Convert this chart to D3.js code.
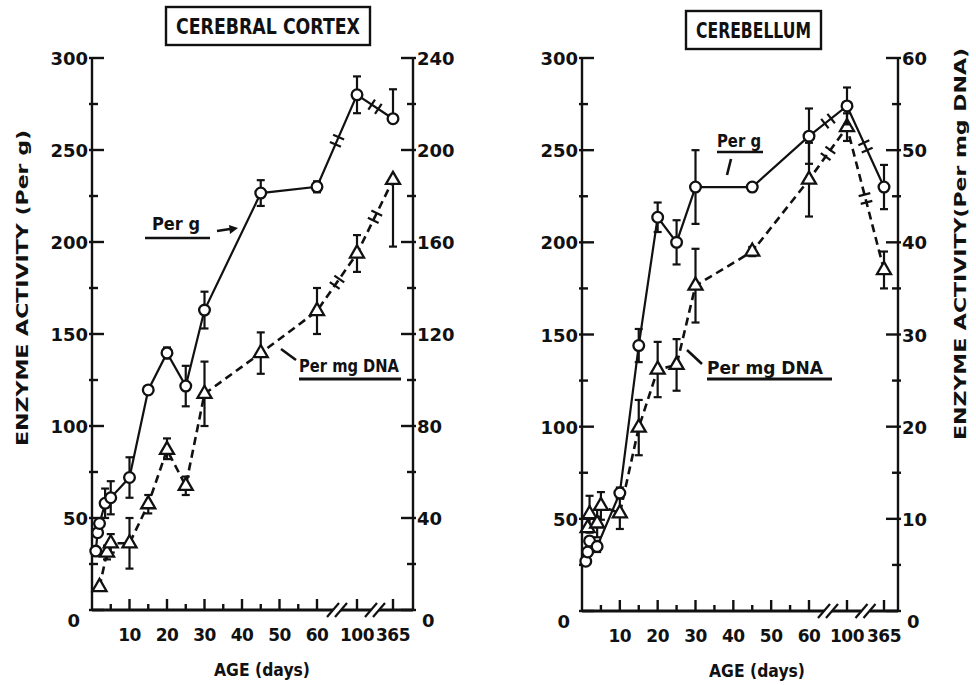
<!DOCTYPE html>
<html lang="en">
<head>
<meta charset="UTF-8">
<title>Enzyme activity - cerebral cortex and cerebellum</title>
<script src="https://d3js.org/d3.v7.min.js"></script>
<style>
    body { margin: 0; background: #fff; }
    text { font-family: "DejaVu Sans", sans-serif; fill: #111; font-weight: bold; }
</style>
</head>
<body>
<div id="chart"></div>
<script>
    // ---- data ----
    // cerebral cortex, per g (circles, solid line, left axis)
    const cortexGDays = [1, 1.5, 2, 3.5, 5, 10, 15, 20, 25, 30, 45, 60, 100, 365];
    const cortexG     = [32, 42, 47, 58, 61, 72, 119.6, 139.7, 121.7, 163, 226.6, 230, 280, 267];
    const cortexGErrLo = [0, 0, 0, 8, 9, 11, 2, 3, 11, 10, 7, 3, 10, 0];
    const cortexGErrHi = [0, 0, 0, 8, 9, 11, 2, 3, 11, 10, 7, 3, 10, 16];
    // cerebral cortex, per mg DNA (triangles, dashed line, right axis)
    const cortexDnaDays = [2, 4, 5, 10, 15, 20, 25, 30, 45, 60, 100, 365];
    const cortexDna     = [10, 25, 29, 29, 46, 69.6, 54, 94, 111.7, 130, 155, 187];
    const cortexDnaErrLo = [0, 3, 4, 11, 4, 4, 4, 14, 9, 10, 8, 29];
    const cortexDnaErrHi = [0, 3, 4, 11, 4, 5, 4, 14, 9, 10, 8, 0];
    // cerebellum, per g
    const cbGDays = [1, 1.5, 2, 4, 10, 15, 20, 25, 30, 45, 60, 100, 365];
    const cbG     = [27, 32, 38, 35, 64, 144, 213.6, 200, 230, 230, 257.6, 274, 230];
    const cbGErrLo = [0, 0, 0, 3, 3, 9, 8, 12, 20, 2, 15, 10, 12];
    const cbGErrHi = [0, 0, 0, 3, 3, 9, 8, 12, 20, 2, 15, 10, 12];
    // cerebellum, per mg DNA
    const cbDnaDays = [1.5, 2, 4, 5, 10, 15, 20, 25, 30, 45, 60, 100, 365];
    const cbDna     = [9, 10.5, 9.5, 11.4, 10.6, 19.9, 26.2, 26.7, 35.3, 39, 46.8, 52.5, 37];
    const cbDnaErrLo = [0, 2, 1.5, 1.5, 1.7, 3, 3, 2.8, 4, 0.5, 4, 1.5, 2];
    const cbDnaErrHi = [0, 2, 1.5, 1.5, 1.7, 3, 3, 2.8, 4, 0.5, 4, 1.5, 2];

    // axes
    const xMajor = [10, 20, 30, 40, 50, 60, 100, 365];
    const xMinor = [5, 15, 25, 35, 45, 55];
    const leftMajor = [0, 50, 100, 150, 200, 250, 300];
    const leftMinor = [25, 75, 125, 175, 225, 275];
    const cortexRightMajor = [0, 40, 80, 120, 160, 200, 240];
    const cortexRightMinor = [20, 60, 100, 140, 180, 220];
    const cbRightMajor = [0, 10, 20, 30, 40, 50, 60];
    const cbRightMinor = [5, 15, 25, 35, 45, 55];

    const W = 976, H = 685;
    const svg = d3.select("#chart").append("svg")
        .attr("width", W).attr("height", H);

    const zip = (days, vals, lo, hi) => days.map((d, i) => ({ day: d, v: vals[i], lo: lo[i], hi: hi[i] }));

    function drawPanel(p) {
        const g = svg.append("g").attr("transform", `translate(${p.left},${p.top})`);
        const w = p.width, h = p.height;

        const x = d3.scaleLinear().domain([0, 60, 100, 365]).range(p.xRange);
        const yL = d3.scaleLinear().domain([0, 300]).range([h, 0]);
        const yR = d3.scaleLinear().domain([0, p.rightMax]).range([h, 0]);

        const ink = sel => sel.attr("stroke", "#111").attr("stroke-width", 2.4);

        // frame lines
        ink(g.append("line").attr("x1", 0).attr("x2", 0).attr("y1", 0).attr("y2", h));
        ink(g.append("line").attr("x1", w).attr("x2", w).attr("y1", 0).attr("y2", h));
        ink(g.append("line").attr("x1", 0).attr("x2", w).attr("y1", h).attr("y2", h))
            .attr("stroke-width", 2.8);

        // ticks (pointing into the plot)
        const tk = g.append("g");
        const vTicks = (vals, y, x0, len) => ink(tk.append("g").selectAll("line").data(vals).join("line")
            .attr("x1", x0 - Math.sign(len) * 3).attr("x2", x0 + len)
            .attr("y1", d => y(d)).attr("y2", d => y(d)));
        vTicks(leftMajor, yL, 0, 12);
        vTicks(leftMinor, yL, 0, 6);
        vTicks(p.rightMajor, yR, w, -12);
        vTicks(p.rightMinor, yR, w, -6);
        const hTicks = (vals, len) => ink(tk.append("g").selectAll("line").data(vals).join("line")
            .attr("x1", d => x(d)).attr("x2", d => x(d))
            .attr("y1", h).attr("y2", h - len));
        hTicks(xMajor, 11);
        hTicks(xMinor, 6);

        // tick labels
        g.append("g").selectAll("text").data(leftMajor).join("text")
            .attr("x", d => d === 0 ? -12 : -4)
            .attr("y", d => d === 0 ? yL(d) + 17 : yL(d) + 7)
            .attr("text-anchor", "end").style("font-size", "18px")
            .text(d => d);
        g.append("g").selectAll("text").data(p.rightMajor).join("text")
            .attr("x", d => d === 0 ? w + 9 : w + 4)
            .attr("y", d => d === 0 ? yR(d) + 17 : yR(d) + 7)
            .style("font-size", "18px")
            .text(d => d);
        g.append("g").selectAll("text").data(xMajor).join("text")
            .attr("x", d => x(d)).attr("y", h + 31)
            .attr("text-anchor", "middle").style("font-size", "17px")
            .attr("letter-spacing", "-0.5")
            .text(d => d);

        // axis breaks
        const breaks = [(x(60) + x(100)) / 2, (x(100) + x(365)) / 2];
        breaks.forEach(bx => {
            g.append("rect").attr("x", bx - 4).attr("y", h - 3).attr("width", 8).attr("height", 6)
                .attr("fill", "#fff");
            [-4, 4].forEach(o => {
                g.append("line")
                    .attr("x1", bx + o - 6).attr("y1", h + 7)
                    .attr("x2", bx + o + 6).attr("y2", h - 7)
                    .attr("stroke", "#111").attr("stroke-width", 2.2);
            });
        });

        function series(data, y, dashed, marker) {
            const line = d3.line().x(d => x(d.day)).y(d => y(d.v));
            g.append("path").datum(data).attr("d", line)
                .attr("fill", "none").attr("stroke", "#111")
                .attr("stroke-width", dashed ? 2.6 : 2.2)
                .attr("stroke-dasharray", dashed ? "8,5" : null);

            // break marks across the line segments
            for (let i = 1; i < data.length; i++) {
                const a = data[i - 1], b = data[i];
                breaks.forEach(bx => {
                    const xa = x(a.day), xb = x(b.day);
                    if (xa < bx && xb > bx) {
                        const ya = y(a.v), yb = y(b.v);
                        const t = (bx - xa) / (xb - xa);
                        const cx = bx, cy = ya + t * (yb - ya);
                        const len = Math.hypot(xb - xa, yb - ya);
                        const ux = (xb - xa) / len, uy = (yb - ya) / len;
                        [-4, 4].forEach(o => {
                            const px = cx + ux * o, py = cy + uy * o;
                            g.append("line")
                                .attr("x1", px - uy * 6).attr("y1", py + ux * 6)
                                .attr("x2", px + uy * 6).attr("y2", py - ux * 6)
                                .attr("stroke", "#111").attr("stroke-width", 2.2);
                        });
                    }
                });
            }

            // error bars
            const eb = g.append("g").selectAll("g").data(data.filter(d => d.lo > 0 || d.hi > 0))
                .join("g").attr("stroke", "#111").attr("stroke-width", 2.2);
            eb.append("line").attr("x1", d => x(d.day)).attr("x2", d => x(d.day))
                .attr("y1", d => y(d.v + d.hi)).attr("y2", d => y(d.v - d.lo));
            eb.filter(d => d.hi > 0).append("line")
                .attr("x1", d => x(d.day) - 4).attr("x2", d => x(d.day) + 4)
                .attr("y1", d => y(d.v + d.hi)).attr("y2", d => y(d.v + d.hi));
            eb.filter(d => d.lo > 0).append("line")
                .attr("x1", d => x(d.day) - 4).attr("x2", d => x(d.day) + 4)
                .attr("y1", d => y(d.v - d.lo)).attr("y2", d => y(d.v - d.lo));

            // markers
            const sym = marker === "circle"
                ? d3.symbol().type(d3.symbolCircle).size(90)
                : d3.symbol().type(d3.symbolTriangle).size(85);
            g.append("g").selectAll("path").data(data).join("path")
                .attr("d", sym)
                .attr("transform", d => `translate(${x(d.day)},${y(d.v)})`)
                .attr("fill", "#fff").attr("stroke", "#111").attr("stroke-width", 2.3);
        }

        series(p.dna, yR, true, "triangle");
        series(p.perG, yL, false, "circle");

        // x axis title
        g.append("text").attr("x", p.ageX).attr("y", h + 66)
            .attr("text-anchor", "middle").style("font-size", "17px")
            .attr("textLength", 96).attr("lengthAdjust", "spacingAndGlyphs")
            .text("AGE (days)");

        // title box
        const t = svg.append("g");
        t.append("rect").attr("x", p.box[0]).attr("y", p.box[1])
            .attr("width", p.box[2]).attr("height", p.box[3])
            .attr("fill", "#fff").attr("stroke", "#111").attr("stroke-width", 2.4);
        t.append("text").attr("x", p.box[0] + p.box[2] / 2).attr("y", p.box[1] + p.box[3] / 2 + 8)
            .attr("text-anchor", "middle").style("font-size", "21px")
            .attr("textLength", p.box[2] - 20).attr("lengthAdjust", "spacingAndGlyphs")
            .text(p.title);
        return g;
    }

    function label(txt, x, y, size, len) {
        const el = svg.append("text").attr("x", x).attr("y", y).style("font-size", size + "px").text(txt);
        if (len) el.attr("textLength", len).attr("lengthAdjust", "spacingAndGlyphs");
        return el;
    }
    function stroke(x1, y1, x2, y2, wdt) {
        svg.append("line").attr("x1", x1).attr("y1", y1).attr("x2", x2).attr("y2", y2)
            .attr("stroke", "#111").attr("stroke-width", wdt || 2.4);
    }

    // ---- left panel: cerebral cortex ----
    drawPanel({
        left: 92, top: 58, width: 321, height: 552,
        xRange: [0, 225, 265, 301],
        rightMax: 240, rightMajor: cortexRightMajor, rightMinor: cortexRightMinor,
        perG: zip(cortexGDays, cortexG, cortexGErrLo, cortexGErrHi),
        dna: zip(cortexDnaDays, cortexDna, cortexDnaErrLo, cortexDnaErrHi),
        ageX: 170, title: "CEREBRAL CORTEX", box: [166, 7, 204, 38]
    });
    // ---- right panel: cerebellum ----
    drawPanel({
        left: 582, top: 58, width: 316, height: 553,
        xRange: [0, 227, 265, 302],
        rightMax: 60, rightMajor: cbRightMajor, rightMinor: cbRightMinor,
        perG: zip(cbGDays, cbG, cbGErrLo, cbGErrHi),
        dna: zip(cbDnaDays, cbDna, cbDnaErrLo, cbDnaErrHi),
        ageX: 175, title: "CEREBELLUM", box: [686, 11, 135, 38]
    });

    // y axis titles
    label("ENZYME  ACTIVITY  (Per g)", 0, 0, 15, 316)
        .attr("transform", "translate(28,446) rotate(-90)");
    label("ENZYME  ACTIVITY(Per mg DNA)", 0, 0, 15, 392)
        .attr("transform", "translate(966,440) rotate(-90)");

    // annotations, cortex
    label("Per g", 152, 230, 17, 48);
    stroke(145, 238, 210, 238, 2.6);
    stroke(217, 231, 230, 229, 2.4);
    svg.append("path").attr("d", "M229,225 L238,228 L230,234 Z").attr("fill", "#111");
    label("Per mg DNA", 299, 372, 17, 100);
    stroke(299, 379, 401, 379, 2.8);
    stroke(281, 349, 296, 360, 2.6);

    // annotations, cerebellum
    label("Per g", 717, 147, 17, 44);
    stroke(717, 152, 763, 152, 2.6);
    stroke(731, 159, 727, 175, 2.6);
    label("Per mg DNA", 707, 374, 17, 116);
    stroke(707, 379, 832, 379, 2.8);
    stroke(687, 350, 702, 364, 2.6);
</script>
</body>
</html>
